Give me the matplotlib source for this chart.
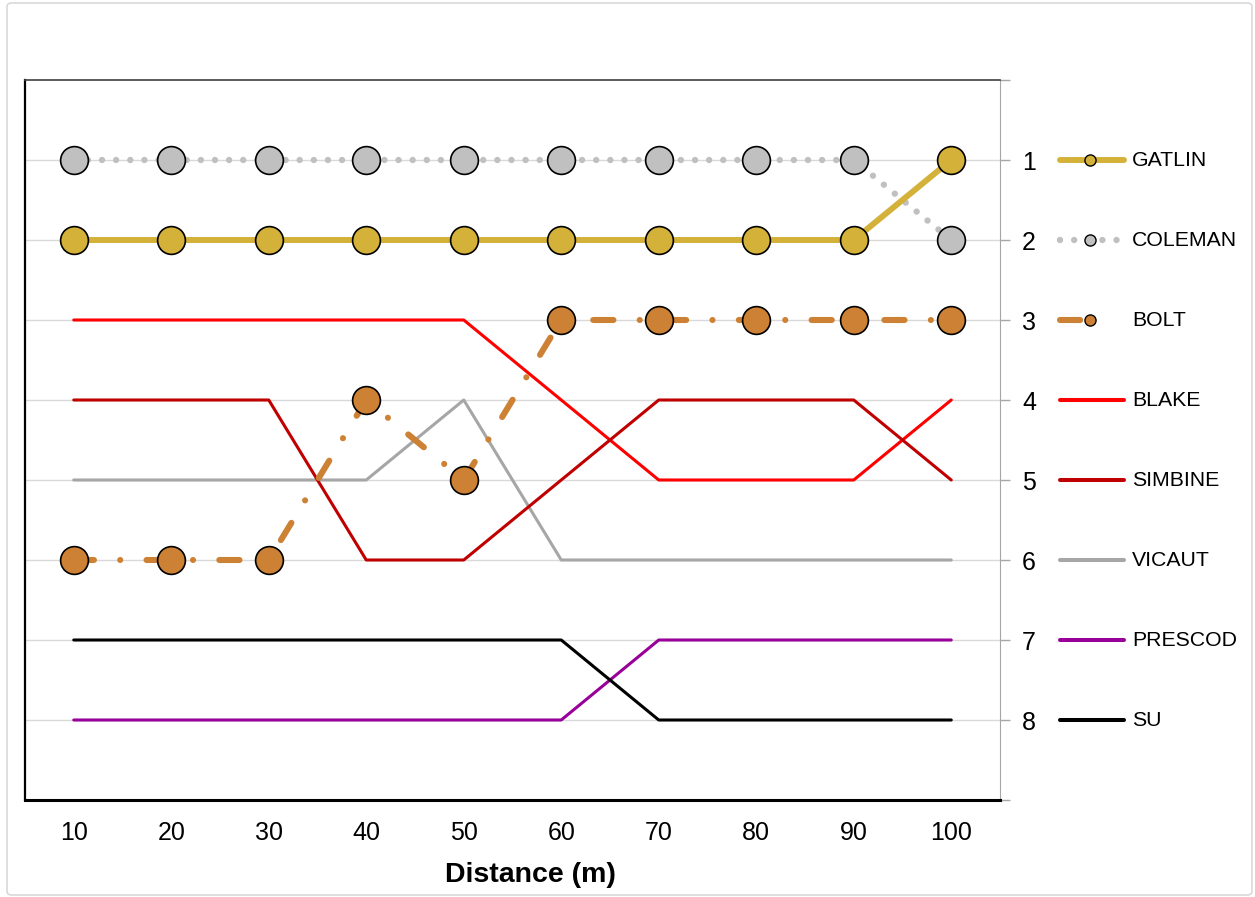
import numpy as np
import matplotlib.pyplot as plt
import matplotlib.transforms as mtransforms
from matplotlib.patches import FancyBboxPatch

plt.rcParams['font.family'] = ['Liberation Sans', 'DejaVu Sans']

# distâncias (m) e posições de cada atleta
distancias = ['10', '20', '30', '40', '50', '60', '70', '80', '90', '100']
gatlin = [2, 2, 2, 2, 2, 2, 2, 2, 2, 1]
coleman = [1, 1, 1, 1, 1, 1, 1, 1, 1, 2]
bolt = [6, 6, 6, 4, 5, 3, 3, 3, 3, 3]
blake = [3, 3, 3, 3, 3, 4, 5, 5, 5, 4]
simbine = [4, 4, 4, 6, 6, 5, 4, 4, 4, 5]
vicaut = [5, 5, 5, 5, 4, 6, 6, 6, 6, 6]
prescod = [8, 8, 8, 8, 8, 8, 7, 7, 7, 7]
su = [7, 7, 7, 7, 7, 7, 8, 8, 8, 8]

nomes = ['GATLIN', 'COLEMAN', 'BOLT', 'BLAKE', 'SIMBINE', 'VICAUT', 'PRESCOD', 'SU']
ranks_legenda = [1, 2, 3, 4, 5, 6, 7, 8]

x = np.arange(1, len(distancias) + 1)

fig = plt.figure(figsize=(12.55, 8.97), dpi=100)
ax = fig.add_axes([25 / 1255, 1 - 800 / 897, 975 / 1255, 720 / 897])

# borda externa
fig.patches.append(FancyBboxPatch((7 / 1255, 2 / 897), 1245 / 1255, 892 / 897,
                                  boxstyle='round,pad=0,rounding_size=0.004',
                                  transform=fig.transFigure, fill=False,
                                  edgecolor='#D9D9D9', linewidth=1.2, zorder=0))

# grade horizontal
for r in range(1, 9):
    ax.axhline(r, color='#D9D9D9', linewidth=1, zorder=0)

# estilos: (cor, largura, dashes, marcador)
estilos = {
    'GATLIN': dict(color='#D4B23A', lw=4.3, dashes=None, marker=True, mfc='#D4B23A'),
    'COLEMAN': dict(color='#C0C0C0', lw=4.6, dashes=(0.01, 2.2), marker=True, mfc='#C0C0C0'),
    'BOLT': dict(color='#CD8135', lw=4.4, dashes=(3.3, 4.3, 0.01, 4.3), marker=True, mfc='#CD8135'),
    'BLAKE': dict(color='#FF0000', lw=2.2, dashes=None, marker=False, mfc=None),
    'SIMBINE': dict(color='#C00000', lw=2.2, dashes=None, marker=False, mfc=None),
    'VICAUT': dict(color='#A6A6A6', lw=2.2, dashes=None, marker=False, mfc=None),
    'PRESCOD': dict(color='#990099', lw=2.2, dashes=None, marker=False, mfc=None),
    'SU': dict(color='#000000', lw=2.2, dashes=None, marker=False, mfc=None),
}
dados = [gatlin, coleman, bolt, blake, simbine, vicaut, prescod, su]
ordem_z = {'GATLIN': 6, 'COLEMAN': 5, 'BOLT': 7, 'BLAKE': 3, 'SIMBINE': 3,
           'VICAUT': 2, 'PRESCOD': 3, 'SU': 3}

trans_leg = mtransforms.blended_transform_factory(ax.transAxes, ax.transData)

for nome, y, rank in zip(nomes, dados, ranks_legenda):
    e = estilos[nome]
    kw = dict(color=e['color'], solid_capstyle='round', dash_capstyle='round')
    linha, = ax.plot(x, y, linewidth=e['lw'], zorder=ordem_z[nome], **kw)
    if e['dashes'] is not None:
        linha.set_dashes(e['dashes'])
    if e['marker']:
        ax.plot(x, y, linestyle='none', marker='o', markersize=20,
                markerfacecolor=e['mfc'], markeredgecolor='black',
                markeredgewidth=1.2, zorder=ordem_z[nome] + 1)

    # legenda manual alinhada com a posição
    x0, x1 = (1060 - 25) / 975, (1124 - 25) / 975
    if nome == 'BOLT':
        x1 = (1106 - 25) / 975
    lw_leg = e['lw'] if e['marker'] else 2.9
    leg, = ax.plot([x0, x1], [rank, rank], transform=trans_leg, clip_on=False,
                   linewidth=lw_leg, **kw)
    if e['dashes'] is not None:
        leg.set_dashes(e['dashes'])
    if e['marker']:
        ax.plot([(1090 - 25) / 975], [rank], transform=trans_leg, clip_on=False,
                marker='o', markersize=8, markerfacecolor=e['mfc'],
                markeredgecolor='black', markeredgewidth=1.0)
    ax.text((1132 - 25) / 975, rank, nome, transform=trans_leg,
            ha='left', va='center', fontsize=15.3)

ax.set_xlim(0.5, 10.5)
ax.set_ylim(9, 0)
ax.set_xticks(x)
ax.set_xticklabels(distancias, fontsize=18)
ax.tick_params(axis='x', length=0, pad=15)

ax.yaxis.tick_right()
ax.set_yticks(range(0, 10))
ax.set_yticklabels([''] + [str(r) for r in range(1, 9)] + [''], fontsize=18)
ax.tick_params(axis='y', length=7, width=1, color='#A6A6A6', pad=9)

ax.set_xlabel('Distance (m)', fontsize=20.5, fontweight='bold')
ax.xaxis.set_label_coords((530 - 25) / 975, -(875 - 800) / 720)
ax.xaxis.label.set_va('center')

ax.spines['left'].set_color('black')
ax.spines['left'].set_linewidth(1.6)
ax.spines['bottom'].set_color('black')
ax.spines['bottom'].set_linewidth(2.2)
ax.spines['top'].set_color('#404040')
ax.spines['top'].set_linewidth(1.2)
ax.spines['right'].set_color('#A6A6A6')
ax.spines['right'].set_linewidth(0.8)

fig.savefig('out.png', dpi=100)
